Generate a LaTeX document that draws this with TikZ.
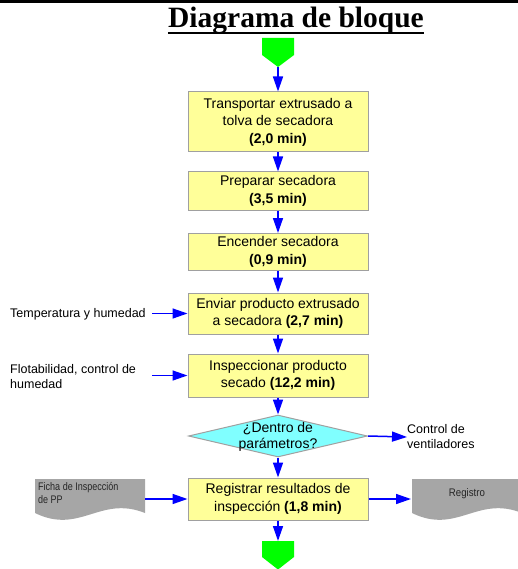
\documentclass[tikz,border=0pt]{standalone}
\usepackage{fontspec}
\setmainfont{Liberation Sans}
\newfontfamily\titlefont{Liberation Serif}
\usetikzlibrary{shapes.geometric,arrows.meta}
\definecolor{boxfill}{HTML}{FFFF99}
\definecolor{decfill}{HTML}{80FFFF}
\definecolor{docfill}{HTML}{A6A6A6}
\definecolor{edgegray}{HTML}{A0A0A0}
\definecolor{flowblue}{HTML}{0000FF}
\definecolor{termgreen}{HTML}{00FF00}
\begin{document}
\begin{tikzpicture}[x=1pt,y=-1pt,
  stepbox/.style={draw=edgegray, line width=1pt, fill=boxfill, minimum width=180pt,
    inner sep=0pt, align=center, font=\fontsize{14}{17.5}\selectfont},
  flow/.style={draw=flowblue, line width=1.5pt, -{Triangle[length=15pt,width=10pt]}},
  note/.style={font=\fontsize{12.5}{15}\selectfont, align=left, anchor=west, inner sep=0pt},
  terminal/.style={fill=termgreen},
  docshape/.style={fill=docfill},
  doctext/.style={font=\fontsize{11}{12.5}\selectfont, align=left, inner sep=0pt, text=black!85}
]
\useasboundingbox (0,0) rectangle (518,569);
\clip (0,0) rectangle (518,569);

% heading rule and title
\fill (0,0) rectangle (518,3.5);
\node[anchor=base, inner sep=0pt, font=\titlefont\bfseries\fontsize{29.5}{31}\selectfont] (title) at (296,28) {Diagrama de bloque};
\draw[line width=2pt] ([yshift=-5pt]title.base west) -- ([yshift=-5pt]title.base east);

% start and end terminals
\fill[terminal] (262,38) -- (294,38) -- (294,55) -- (278,67) -- (262,55) -- cycle;
\coordinate (start) at (278,67);
\fill[terminal] (262,541) -- (294,541) -- (294,557) -- (278,569.5) -- (262,557) -- cycle;
\coordinate (finish) at (278,541);

% process steps
\node[stepbox, minimum height=60pt] (s1) at (278,122) {Transportar extrusado a\\tolva de secadora\\\textbf{(2,0 min)}};
\node[stepbox, minimum height=38pt] (s2) at (278,191) {Preparar secadora\\\textbf{(3,5 min)}};
\node[stepbox, minimum height=37pt] (s3) at (278,252) {Encender secadora\\\textbf{(0,9 min)}};
\node[stepbox, minimum height=41pt] (s4) at (278,313.5) {Enviar producto extrusado\\a secadora \textbf{(2,7 min)}};
\node[stepbox, minimum height=43pt] (s5) at (278,375.5) {Inspeccionar producto\\secado \textbf{(12,2 min)}};
\node[diamond, draw=edgegray, line width=1pt, fill=decfill, minimum width=179pt, minimum height=42pt, inner sep=0pt] (dec) at (278,436) {};
\node[align=center, font=\fontsize{14}{16}\selectfont, inner sep=0pt] (dectext) at (278,437) {¿Dentro de\\parámetros?};
\node[stepbox, minimum height=42pt] (s6) at (278,499) {Registrar resultados de\\inspección \textbf{(1,8 min)}};

% main flow
\draw[flow] (start) -- (s1.north);
\draw[flow] (s1.south) -- (s2.north);
\draw[flow] (s2.south) -- (s3.north);
\draw[flow] (s3.south) -- (s4.north);
\draw[flow] (s4.south) -- (s5.north);
\draw[flow] (s5.south) -- (dec.north);
\draw[flow] (dec.south) -- (s6.north);
\draw[flow] (s6.south) -- (finish);

% side inputs
\node[note] (in1) at (10,314) {Temperatura y humedad};
\coordinate (in1end) at (152,313.5);
\draw[flow] (in1end) -- (s4.west);
\node[note] (in2) at (10,377) {Flotabilidad, control de\\humedad};
\coordinate (in2end) at (152,375.5);
\draw[flow] (in2end) -- (s5.west);

% decision output
\node[note] (out1) at (407,437) {Control de\\ventiladores};
\draw[flow] (dec.east) -- (out1.west);

% documents
\fill[docshape] (35,479) -- (145,479) -- (145,513) .. controls (100,495) and (80,535) .. (35,513) -- cycle;
\node[doctext, anchor=north west] (doc1) at (38,482) {\scalebox{0.82}[1]{\begin{tabular}{@{}l@{}}Ficha de Inspección\\de PP\end{tabular}}};
\coordinate (doc1out) at (145,499);
\draw[flow] (doc1out) -- (s6.west);

\fill[docshape] (412,479) -- (522,479) -- (522,513) .. controls (477,495) and (457,535) .. (412,513) -- cycle;
\node[font=\fontsize{11}{12}\selectfont, inner sep=0pt, text=black!85] (doc2) at (467,494) {\scalebox{0.88}[1]{Registro}};
\coordinate (doc2in) at (411,499);
\draw[flow] (s6.east) -- (doc2in);
\end{tikzpicture}
\end{document}
